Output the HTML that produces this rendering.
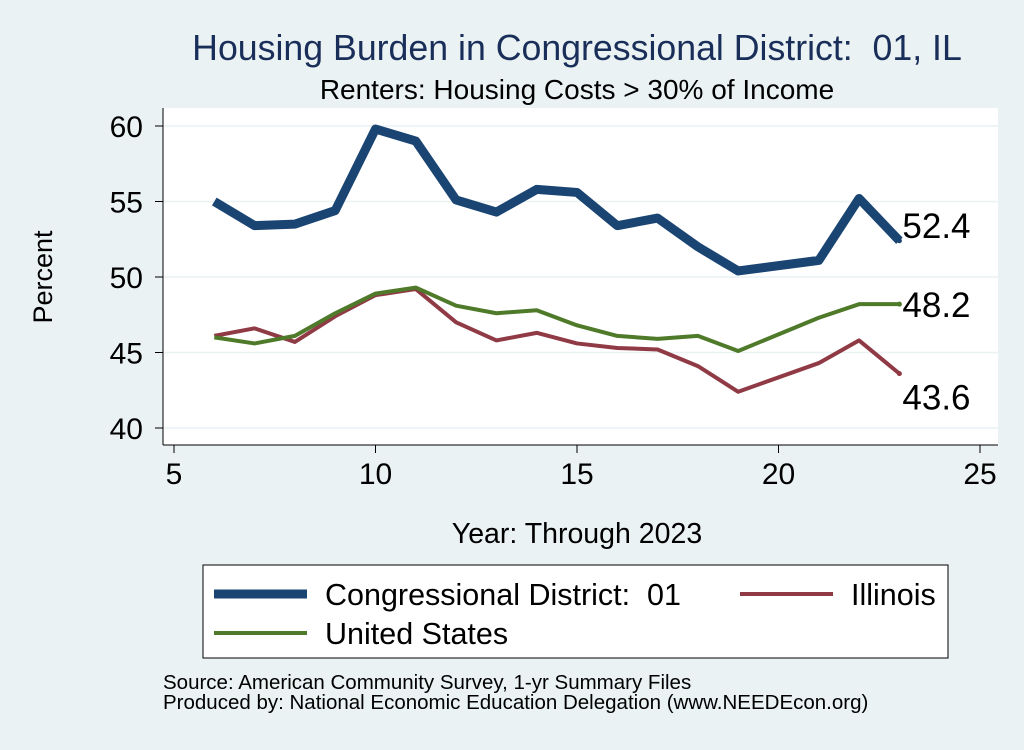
<!DOCTYPE html>
<html><head><meta charset="utf-8"><style>
body{margin:0;background:#eaf2f3;font-family:"Liberation Sans",sans-serif}
text{white-space:pre}
</style></head><body>
<svg width="1024" height="745" viewBox="0 0 1024 745" xmlns="http://www.w3.org/2000/svg">
<rect x="0" y="0" width="1024" height="745" fill="#eaf2f3"/>
<text x="577" y="60" font-size="35.7" fill="#1a2e5a" text-anchor="middle">Housing Burden in Congressional District:  01, IL</text>
<text x="577" y="99" font-size="28" fill="#000" text-anchor="middle">Renters: Housing Costs &gt; 30% of Income</text>
<rect x="163" y="108" width="835" height="337" fill="#fff"/>
<g id="grid"></g>
<g id="axes"></g>
<g id="series"></g>
<text x="52" y="277" font-size="27" text-anchor="middle" transform="rotate(-90 52 277)">Percent</text>
<text x="577" y="543" font-size="28.5" text-anchor="middle">Year: Through 2023</text>
<g>
<rect x="203" y="565" width="745" height="93" fill="#fff" stroke="#000" stroke-width="1"/>
<line x1="214" y1="594" x2="307" y2="594" stroke="#1a4472" stroke-width="9"/>
<text x="325" y="605" font-size="30.5">Congressional District:  01</text>
<line x1="740" y1="594" x2="833" y2="594" stroke="#8f3a44" stroke-width="4"/>
<text x="851" y="605" font-size="30.5">Illinois</text>
<line x1="214" y1="633" x2="307" y2="633" stroke="#4e7a2a" stroke-width="4"/>
<text x="325" y="644" font-size="30.5">United States</text>
</g>
<text x="163" y="689" font-size="20.5">Source: American Community Survey, 1-yr Summary Files</text>
<text x="163" y="709" font-size="20.5">Produced by: National Economic Education Delegation (www.NEEDEcon.org)</text>
</svg>
<script>
const years=[6,7,8,9,10,11,12,13,14,15,16,17,18,19,21,22,23];
const cdValues=[55.0,53.4,53.5,54.4,59.8,59.0,55.1,54.3,55.8,55.6,53.4,53.9,52.0,50.4,51.1,55.2,52.4];
const ilValues=[46.1,46.6,45.7,47.4,48.8,49.2,47.0,45.8,46.3,45.6,45.3,45.2,44.1,42.4,44.3,45.8,43.6];
const usValues=[46.0,45.6,46.1,47.6,48.9,49.3,48.1,47.6,47.8,46.8,46.1,45.9,46.1,45.1,47.3,48.2,48.2];
const xTicks=[5,10,15,20,25];
const yTicks=[40,45,50,55,60];
const NS="http://www.w3.org/2000/svg";
const X=v=>174+(v-5)*(980-174)/20;
const Y=v=>428-(v-40)*(428-126)/20;
function mk(t,a,p){const e=document.createElementNS(NS,t);for(const k in a)e.setAttribute(k,a[k]);p.appendChild(e);return e;}
const grid=document.getElementById('grid'),axes=document.getElementById('axes'),ser=document.getElementById('series');
yTicks.forEach(v=>{
 const g=mk('line',{x1:163,x2:998,y1:Y(v),y2:Y(v),stroke:'#eaf2f3','stroke-width':1.5},grid);
 
 
 const t=mk('line',{x1:155,x2:163,y1:Y(v),y2:Y(v),stroke:'#000'},axes);
 
 
 const l=mk('text',{x:143,y:Y(v)+11,'font-size':30,'text-anchor':'end'},axes);l.textContent=v;
 
 
});
mk('line',{x1:163,x2:163,y1:108,y2:445,stroke:'#000'},axes);
mk('line',{x1:163,x2:998,y1:445,y2:445,stroke:'#000'},axes);
xTicks.forEach(v=>{
 const t=mk('line',{x1:X(v),x2:X(v),y1:445,y2:453,stroke:'#000'},axes);
 
 
 const l=mk('text',{x:X(v),y:484,'font-size':30,'text-anchor':'middle'},axes);l.textContent=v;
 
 
});
function line(vals,color,w,name){
 const d=years.map((y,i)=>(i?'L':'M')+X(y)+','+Y(vals[i])).join(' ');
 const p=mk('path',{d:d,fill:'none',stroke:color,'stroke-width':w,'stroke-linejoin':'round'},ser);
 
 
 const n=vals.length-1;
 mk('circle',{cx:X(years[n]),cy:Y(vals[n]),r:2.5,fill:color},ser);
}
line(ilValues,'#8f3a44',4,'line-illinois');
line(usValues,'#4e7a2a',4,'line-united-states');
line(cdValues,'#1a4472',9,'line-congressional-district');
const last=years.length-1;
[[cdValues,-3,'label-cd-last'],[usValues,13,'label-us-last'],[ilValues,36,'label-il-last']].forEach(([v,dy,nm])=>{
 const t=mk('text',{x:X(years[last])+3,y:Y(v[last])+dy,'font-size':35},ser);
 t.textContent=v[last].toFixed(1);
 
 
});
</script>
</body></html>
